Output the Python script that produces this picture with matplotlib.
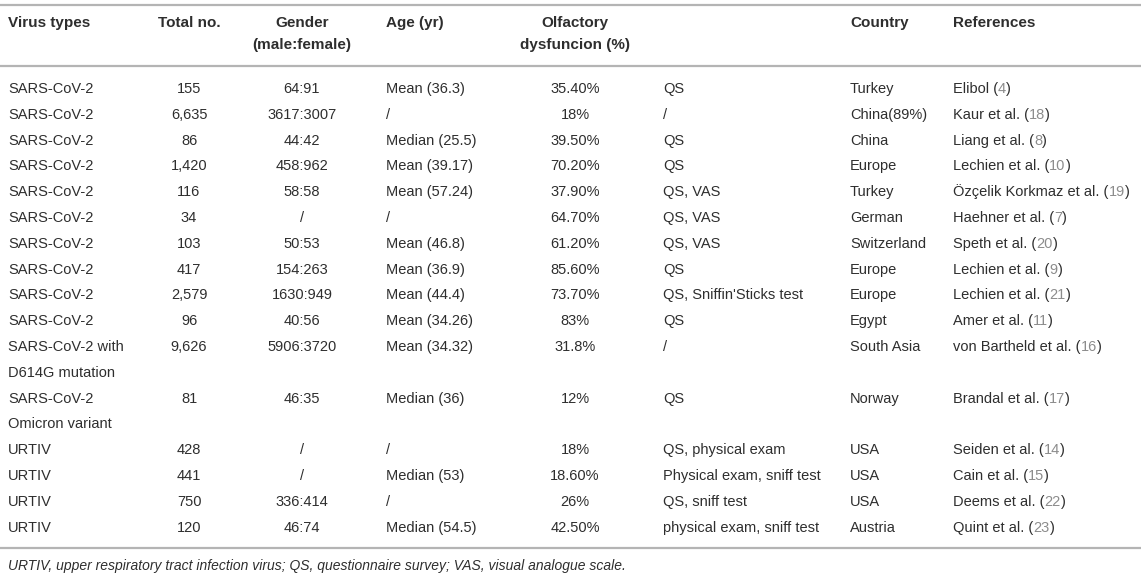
import matplotlib
matplotlib.use("Agg")
import matplotlib.pyplot as plt

# ---------------- data ----------------
headers = ["Virus types", "Total no.", "Gender\n(male:female)", "Age (yr)",
           "Olfactory\ndysfuncion (%)", "", "Country", "References"]

virus = ["SARS-CoV-2", "SARS-CoV-2", "SARS-CoV-2", "SARS-CoV-2", "SARS-CoV-2",
         "SARS-CoV-2", "SARS-CoV-2", "SARS-CoV-2", "SARS-CoV-2", "SARS-CoV-2",
         "SARS-CoV-2 with\nD614G mutation", "SARS-CoV-2\nOmicron variant",
         "URTIV", "URTIV", "URTIV", "URTIV"]
total = ["155", "6,635", "86", "1,420", "116", "34", "103", "417", "2,579", "96",
         "9,626", "81", "428", "441", "750", "120"]
gender = ["64:91", "3617:3007", "44:42", "458:962", "58:58", "/", "50:53", "154:263",
          "1630:949", "40:56", "5906:3720", "46:35", "/", "/", "336:414", "46:74"]
age = ["Mean (36.3)", "/", "Median (25.5)", "Mean (39.17)", "Mean (57.24)", "/",
       "Mean (46.8)", "Mean (36.9)", "Mean (44.4)", "Mean (34.26)", "Mean (34.32)",
       "Median (36)", "/", "Median (53)", "/", "Median (54.5)"]
olfactory = ["35.40%", "18%", "39.50%", "70.20%", "37.90%", "64.70%", "61.20%",
             "85.60%", "73.70%", "83%", "31.8%", "12%", "18%", "18.60%", "26%", "42.50%"]
method = ["QS", "/", "QS", "QS", "QS, VAS", "QS, VAS", "QS, VAS", "QS",
          "QS, Sniffin'Sticks test", "QS", "/", "QS", "QS, physical exam",
          "Physical exam, sniff test", "QS, sniff test", "physical exam, sniff test"]
country = ["Turkey", "China(89%)", "China", "Europe", "Turkey", "German", "Switzerland",
           "Europe", "Europe", "Egypt", "South Asia", "Norway", "USA", "USA", "USA", "Austria"]
ref_names = ["Elibol", "Kaur et al.", "Liang et al.", "Lechien et al.",
             "Özçelik Korkmaz et al.", "Haehner et al.", "Speth et al.", "Lechien et al.",
             "Lechien et al.", "Amer et al.", "von Bartheld et al.", "Brandal et al.",
             "Seiden et al.", "Cain et al.", "Deems et al.", "Quint et al."]
ref_nums = ["4", "18", "8", "10", "19", "7", "20", "9", "21", "11", "16", "17",
            "14", "15", "22", "23"]
footnote = "URTIV, upper respiratory tract infection virus; QS, questionnaire survey; VAS, visual analogue scale."

# ---------------- layout ----------------
W, H = 1145, 577
fig = plt.figure(figsize=(W / 100, H / 100), dpi=100)
ax = fig.add_axes([0, 0, 1, 1])
ax.set_xlim(0, W)
ax.set_ylim(H, 0)
ax.axis("off")

FONT = "Liberation Sans"
FS = 10.5
FS_HEAD = 11
FS_FOOT = 10
TXT = "#2e2e2e"
NUM = "#8c8c8c"
LINE = "#b4b4b4"

# column anchors (x, ha)
cols = [(8, "left"), (189, "center"), (302, "center"), (386, "left"),
        (575, "center"), (663, "left"), (850, "left"), (953, "left")]

top_line = 5
head_y = 23
head_dy = 22
head_line = 66
row0 = 88
dy = 25.8

for yl in (top_line, head_line):
    ax.plot([0, W - 4], [yl, yl], color=LINE, lw=1.6, solid_capstyle="butt")

for (x, ha), h in zip(cols, headers):
    for k, part in enumerate(h.split("\n")):
        if part:
            ax.text(x, head_y + k * head_dy, part, ha=ha, va="center", fontsize=FS_HEAD,
                    fontweight="bold", family=FONT, color=TXT)

fig.canvas.draw()
renderer = fig.canvas.get_renderer()
inv = ax.transData.inverted()

line_idx = 0
for i in range(len(virus)):
    y = row0 + line_idx * dy
    vals = [virus[i], total[i], gender[i], age[i], olfactory[i], method[i], country[i]]
    for (x, ha), v in zip(cols[:7], vals):
        for k, part in enumerate(v.split("\n")):
            ax.text(x, y + k * dy + 5, part, ha=ha, va="baseline", fontsize=FS,
                    family=FONT, color=TXT)
    # reference with grey number
    x0 = cols[7][0]
    yb = y + 5
    t1 = ax.text(x0, yb, ref_names[i] + " (", ha="left", va="baseline", fontsize=FS,
                 family=FONT, color=TXT)
    bb = t1.get_window_extent(renderer=renderer)
    x1 = inv.transform((bb.x1, bb.y0))[0]
    t2 = ax.text(x1, yb, ref_nums[i], ha="left", va="baseline", fontsize=FS,
                 family=FONT, color=NUM)
    bb2 = t2.get_window_extent(renderer=renderer)
    x2 = inv.transform((bb2.x1, bb2.y0))[0]
    ax.text(x2, yb, ")", ha="left", va="baseline", fontsize=FS, family=FONT, color=TXT)
    line_idx += len(virus[i].split("\n"))

bottom_line = row0 + (line_idx - 1) * dy + 21
ax.plot([0, W - 4], [bottom_line, bottom_line], color=LINE, lw=1.6, solid_capstyle="butt")
ax.text(8, bottom_line + 18, footnote, ha="left", va="center", fontsize=FS_FOOT,
        style="italic", family=FONT, color=TXT)

fig.savefig("out.png", dpi=100, facecolor="white")
